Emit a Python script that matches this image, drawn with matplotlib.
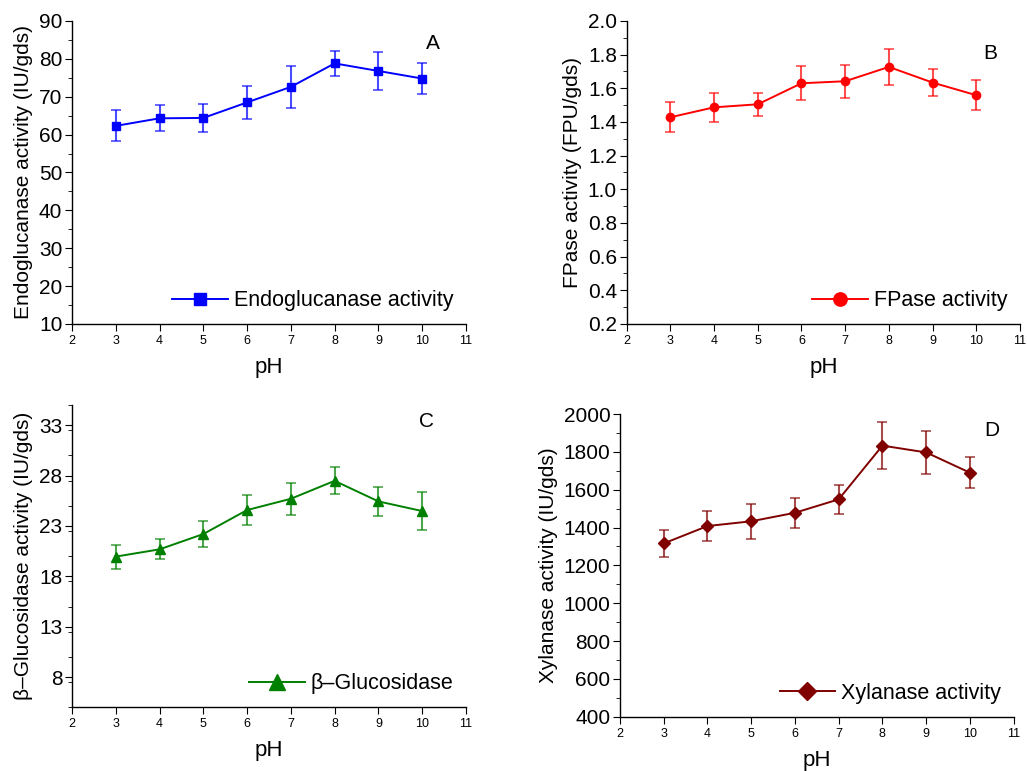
import numpy as np
import matplotlib.pyplot as plt
from matplotlib.ticker import MultipleLocator, AutoMinorLocator

plt.rcParams['font.family'] = ['Liberation Sans', 'DejaVu Sans']

ph = [3, 4, 5, 6, 7, 8, 9, 10]

endo = [62.3, 64.3, 64.4, 68.5, 72.6, 78.8, 76.8, 74.8]
endo_err = [4.1, 3.4, 3.6, 4.3, 5.5, 3.2, 4.9, 4.0]

fpase = [1.428, 1.487, 1.505, 1.630, 1.642, 1.727, 1.634, 1.559]
fpase_err = [0.090, 0.085, 0.070, 0.100, 0.097, 0.108, 0.078, 0.090]

bglu = [19.96, 20.68, 22.2, 24.58, 25.7, 27.48, 25.44, 24.48]
bglu_err = [1.2, 1.0, 1.25, 1.45, 1.6, 1.35, 1.45, 1.9]

xyl = [1316, 1408, 1433, 1478, 1549, 1833, 1797, 1690]
xyl_err = [72, 78, 93, 78, 75, 125, 114, 81]

fig = plt.figure(figsize=(10.27, 7.71), dpi=100)

# [left, bottom, width, height] in figure fractions
boxes = [
    [0.0701, 0.5798, 0.3836, 0.393],
    [0.6102, 0.5798, 0.3830, 0.393],
    [0.0701, 0.0826, 0.3836, 0.392],
    [0.6037, 0.0704, 0.3833, 0.3926],
]

panels = [
    dict(y=endo, err=endo_err, color='#0000ff', marker='s', ms=5.5,
         label='Endoglucanase activity', ylabel='Endoglucanase activity (IU/gds)',
         ylim=(10, 90), major=10, ticks=None, letter='A', lpos=(0.916, 0.927)),
    dict(y=fpase, err=fpase_err, color='#ff0000', marker='o', ms=6,
         label='FPase activity', ylabel='FPase activity (FPU/gds)',
         ylim=(0.2, 2.0), major=0.2, ticks=None, letter='B', lpos=(0.925, 0.893)),
    dict(y=bglu, err=bglu_err, color='#008000', marker='^', ms=7,
         label='\u03b2\u2013Glucosidase', ylabel='\u03b2\u2013Glucosidase activity (IU/gds)',
         ylim=(5, 35), major=None, ticks=[8, 13, 18, 23, 28, 33], letter='C', lpos=(0.90, 0.947)),
    dict(y=xyl, err=xyl_err, color='#800000', marker='D', ms=6,
         label='Xylanase activity', ylabel='Xylanase activity (IU/gds)',
         ylim=(400, 2000), major=200, ticks=None, letter='D', lpos=(0.944, 0.947)),
]

for box, p in zip(boxes, panels):
    ax = fig.add_axes(box)
    ax.plot(ph, p['y'], color=p['color'], marker=p['marker'], ms=p['ms'],
            lw=1.4, label=p['label'], zorder=3)
    ax.errorbar(ph, p['y'], yerr=p['err'], fmt='none', ecolor=p['color'],
                alpha=0.7, elinewidth=1.5, capsize=3.5, capthick=1.2, zorder=2)
    ax.set_xlim(2, 11)
    ax.set_ylim(*p['ylim'])
    ax.xaxis.set_major_locator(MultipleLocator(1))
    if p['ticks'] is not None:
        ax.set_yticks(p['ticks'])
        ax.yaxis.set_minor_locator(MultipleLocator(2.5))
    else:
        ax.yaxis.set_major_locator(MultipleLocator(p['major']))
        ax.yaxis.set_minor_locator(AutoMinorLocator(2))
    if p['letter'] == 'B':
        ax.yaxis.set_major_formatter(plt.FormatStrFormatter('%.1f'))
    for s in ['top', 'right']:
        ax.spines[s].set_visible(False)
    for s in ['left', 'bottom']:
        ax.spines[s].set_linewidth(1.0)
    ax.tick_params(axis='y', which='major', direction='out', length=5, labelsize=15, pad=2)
    ax.tick_params(axis='y', which='minor', direction='out', length=3)
    ax.tick_params(axis='x', which='major', direction='out', length=5, labelsize=9, pad=3)
    ax.set_xlabel('pH', fontsize=16, labelpad=7)
    ax.set_ylabel(p['ylabel'], fontsize=15, labelpad=4)
    ax.text(p['lpos'][0], p['lpos'][1], p['letter'], transform=ax.transAxes,
            fontsize=15, ha='center', va='center')
    ax.legend(loc='lower right', frameon=False, fontsize=15.5, handlelength=2.6,
              handletextpad=0.25, borderaxespad=0.2, markerscale=1.6)

fig.savefig('out.png', dpi=100)
